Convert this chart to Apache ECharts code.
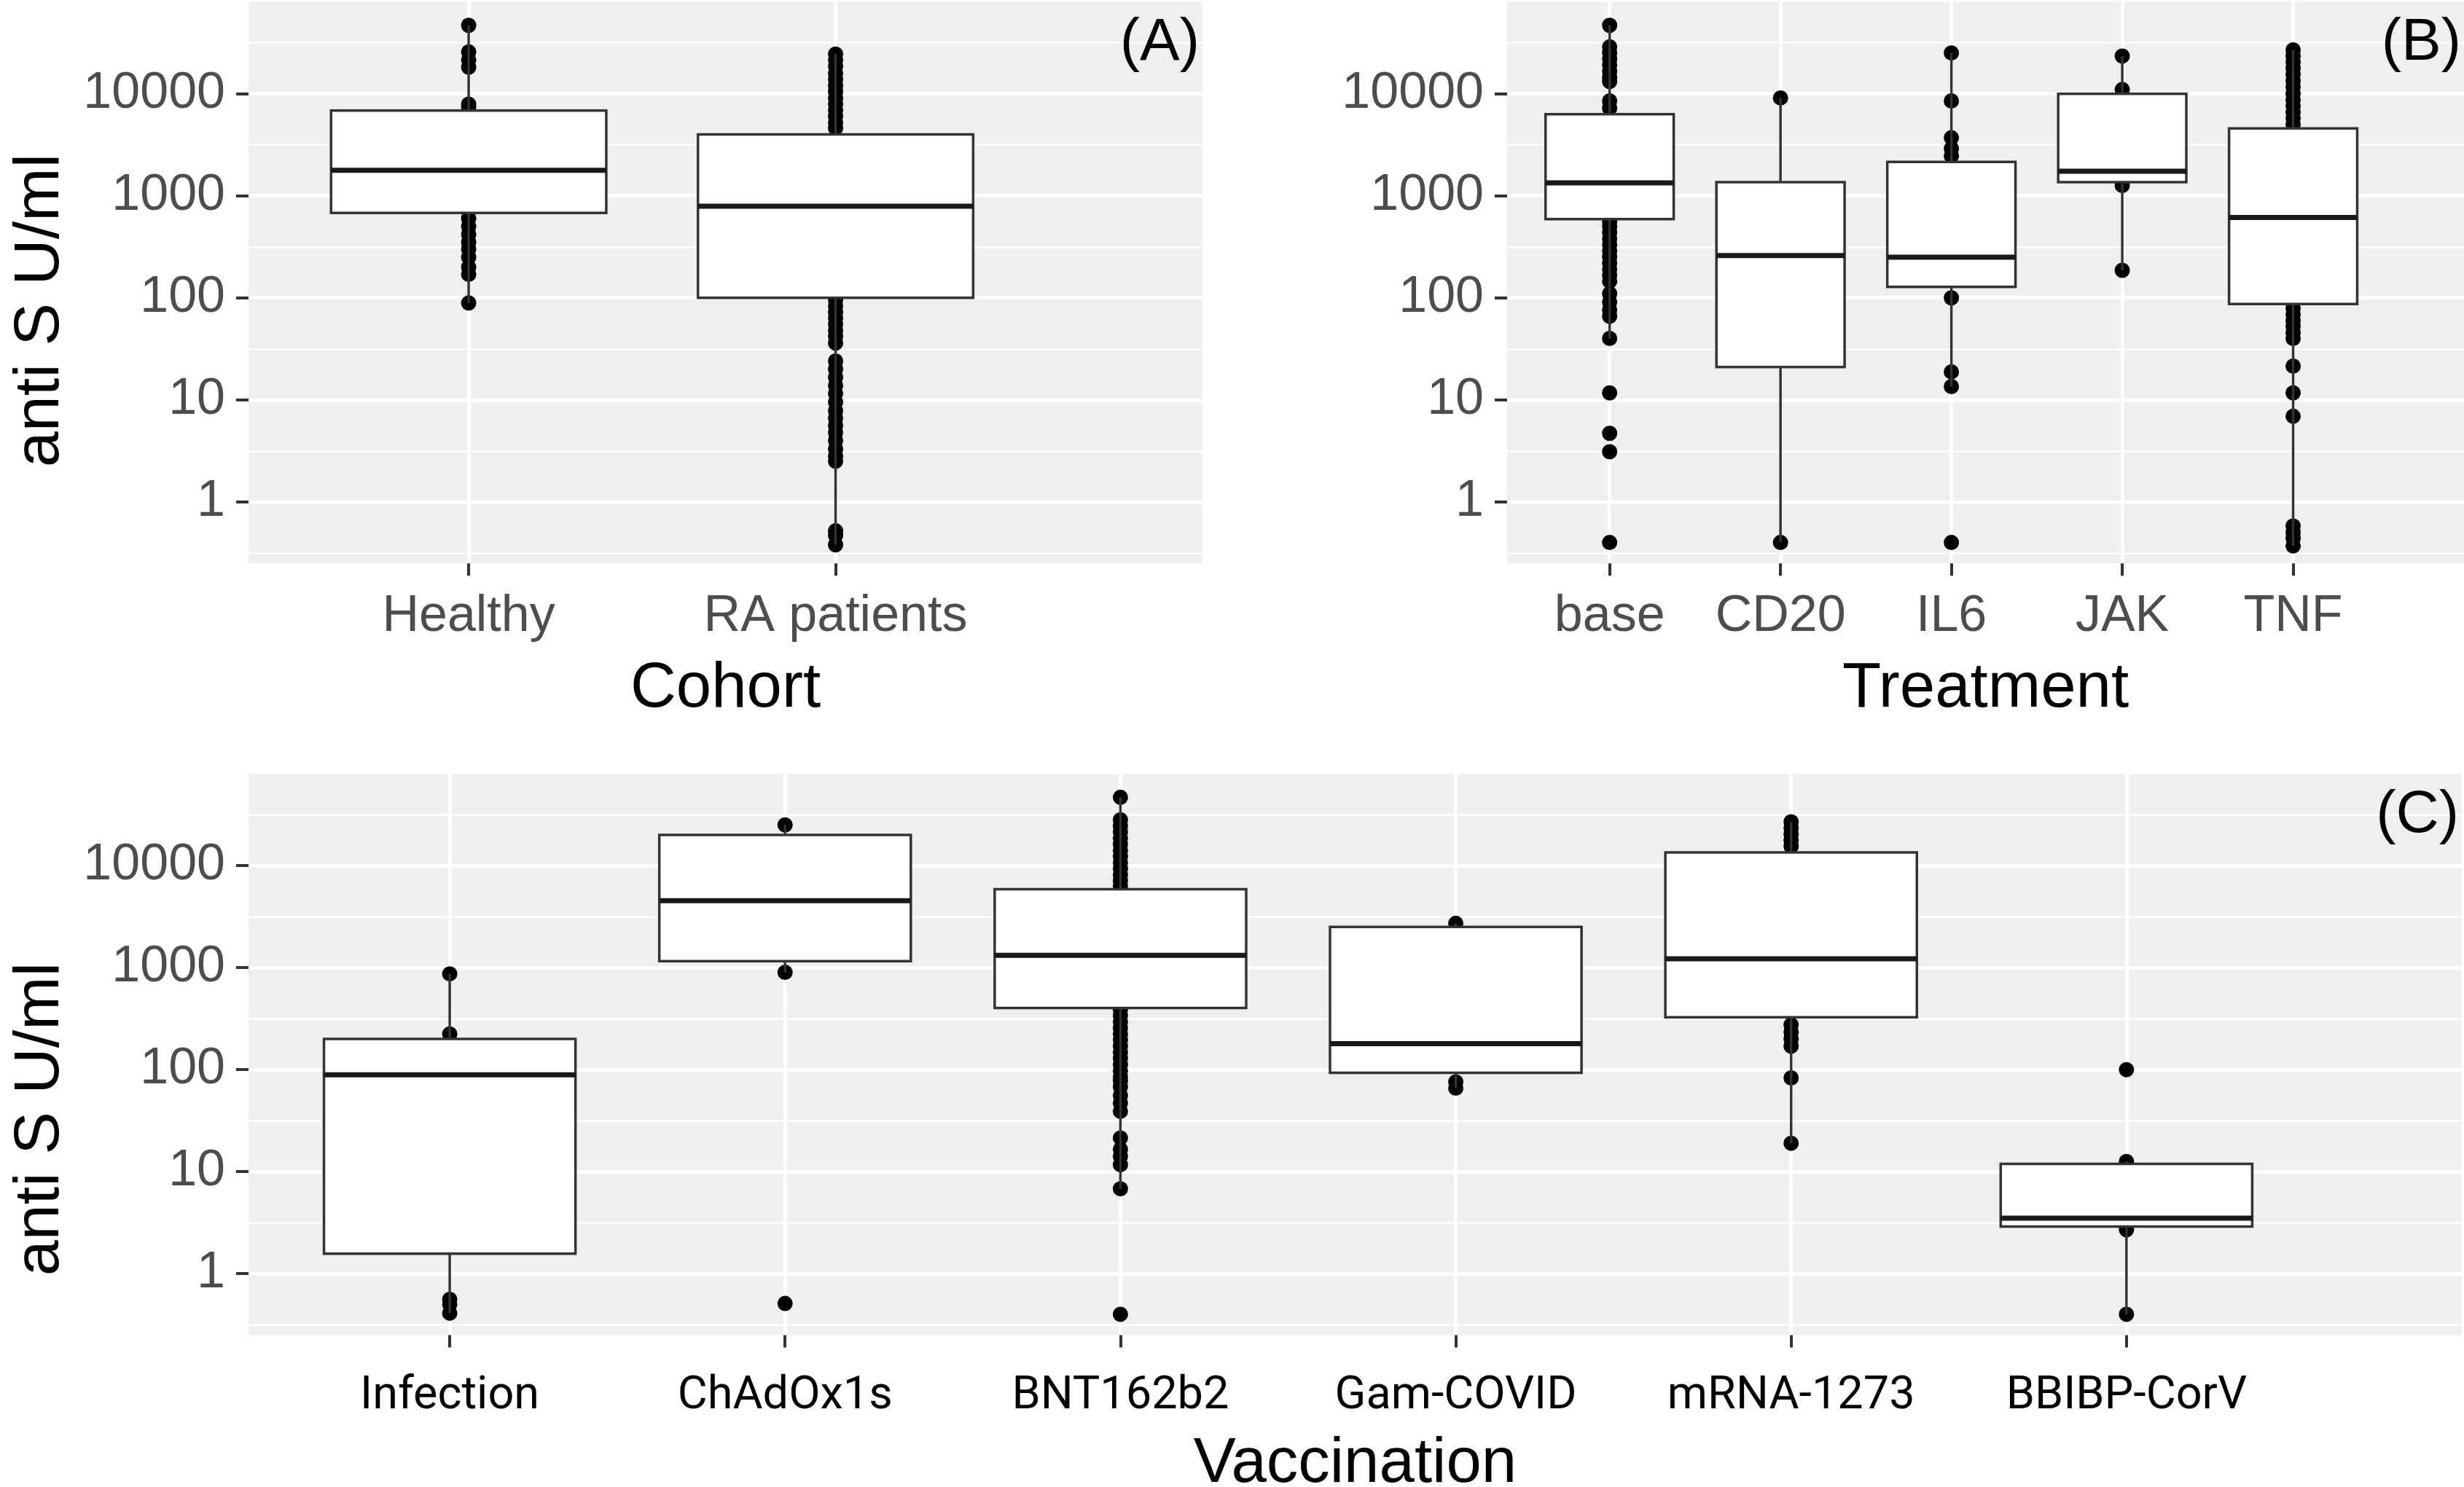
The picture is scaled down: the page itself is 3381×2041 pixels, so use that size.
<!DOCTYPE html>
<html><head><meta charset="utf-8">
<script src="https://cdn.jsdelivr.net/npm/echarts@6/dist/echarts.min.js"></script>
<style>html,body{margin:0;padding:0;background:#fff}#c{width:3381px;height:2041px}</style>
</head><body><div id="c"></div>
<script>
// ---------- DATA (anti S U/ml) ----------
// stats: [lower whisker, Q1, median, Q3, upper whisker]
const cohortCategories = ['Healthy', 'RA patients'];
const healthyStats = [89, 680, 1780, 6850, 46800];
const raStats = [0.38, 100, 790, 4000, 24500];
const healthyPoints = [46800, 25700, 21400, 18200, 7900, 7400, 600, 500, 420, 350, 300, 250, 200, 170, 89];
const raPoints = [24500, 21400, 18600, 15800, 13800, 12000, 10500, 9100, 7900, 6900, 6000, 5200, 4600,
  95, 83, 72, 63, 55, 48, 42, 36, 24, 20, 16.6, 13.8, 11.5, 9.5, 7.8, 6.6, 5.6, 4.8, 4.0, 3.3, 2.8, 2.5, 0.52, 0.47, 0.38];

const treatmentCategories = ['base', 'CD20', 'IL6', 'JAK', 'TNF'];
const baseStats = [40, 590, 1340, 6300, 46800];
const cd20Stats = [0.4, 21, 260, 1360, 9100];
const il6Stats = [13.5, 128, 250, 2150, 25100];
const jakStats = [186, 1360, 1740, 10000, 23400];
const tnfStats = [0.37, 87, 612, 4570, 26900];
const basePoints = [46800, 28800, 25100, 21900, 19100, 16600, 14500, 13200, 8500, 7200,
  560, 500, 437, 380, 331, 288, 251, 219, 191, 166, 145, 110, 91, 76, 66, 40, 11.7, 4.7, 3.1, 0.4];
const cd20Points = [9100, 0.4];
const il6Points = [25100, 8500, 3700, 2900, 2450, 100, 18.8, 13.5, 0.4];
const jakPoints = [23400, 11000, 1260, 186];
const tnfPoints = [26900, 23400, 20400, 17800, 15500, 13500, 11700, 10000, 8700, 7600, 6600, 5750, 5000,
  79, 69, 60, 52.5, 45.7, 40, 21.4, 11.7, 6.9, 0.58, 0.5, 0.44, 0.37];

const vaccinationCategories = ['Infection', 'ChAdOx1s', 'BNT162b2', 'Gam-COVID', 'mRNA-1273', 'BBIBP-CorV'];
const infectionStats = [0.41, 1.57, 89, 200, 870];
const chadStats = [900, 1160, 4540, 20000, 25100];
const bntStats = [6.8, 403, 1320, 5890, 46800];
const gamStats = [66, 93, 180, 2510, 2720];
const mrnaStats = [19, 326, 1220, 13500, 26900];
const bbibpStats = [0.4, 2.9, 3.5, 11.9, 12.6];
const infectionPoints = [870, 224, 0.56, 0.5, 0.41];
const chadPoints = [25100, 900, 0.51];
const bntPoints = [46800, 28200, 24500, 21400, 18600, 16200, 14100, 12300, 10700, 9300, 8100, 7100, 6300,
  389, 339, 295, 257, 224, 195, 170, 148, 129, 112, 98, 85, 78, 68, 56, 47, 39, 21.4, 16.6, 14.1, 11.7, 6.8, 0.4];
const gamPoints = [2720, 76, 66];
const mrnaPoints = [26900, 23400, 20400, 17800, 15500, 275, 234, 200, 170, 83, 19];
const bbibpPoints = [100, 12.6, 2.7, 0.4];

const yTickValues = [1, 10, 100, 1000, 10000];
const yTickLabels = ['1', '10', '100', '1000', '10000'];
const yMinorValues = [0.316, 3.16, 31.6, 316, 3160, 31600];

// ---------- BUILD ----------
const LOG = v => Math.log10(v);
const Y_MIN = -0.603, Y_MAX = 4.90;
const FONT = "'Liberation Sans', Arial, sans-serif";
const panels = [
  { cats: cohortCategories, stats: [healthyStats, raStats], pts: [healthyPoints, raPoints],
    grid: { left: 341, top: 2.6, width: 1309, height: 770.7 }, title: 'Cohort', tag: '(A)',
    labelFont: FONT, labelColor: '#4D4D4D', labelSize: 70, labelMargin: 38, nameGap: 129 },
  { cats: treatmentCategories, stats: [baseStats, cd20Stats, il6Stats, jakStats, tnfStats],
    pts: [basePoints, cd20Points, il6Points, jakPoints, tnfPoints],
    grid: { left: 2068, top: 2.6, width: 1313, height: 770.7 }, title: 'Treatment', tag: '(B)',
    labelFont: FONT, labelColor: '#4D4D4D', labelSize: 70, labelMargin: 38, nameGap: 129 },
  { cats: vaccinationCategories, stats: [infectionStats, chadStats, bntStats, gamStats, mrnaStats, bbibpStats],
    pts: [infectionPoints, chadPoints, bntPoints, gamPoints, mrnaPoints, bbibpPoints],
    grid: { left: 341, top: 1062.2, width: 3037, height: 770.4 }, title: 'Vaccination', tag: '(C)',
    labelFont: "Roboto, 'Liberation Sans', sans-serif", labelColor: '#000', labelSize: 63, labelMargin: 53, nameGap: 134 }
];

const grids = [], xAxes = [], yAxes = [], series = [], graphics = [];
panels.forEach((p, i) => {
  const n = p.cats.length;
  const catIdx = p.cats.map((_, k) => k + 1);
  grids.push(Object.assign({ show: true, backgroundColor: '#EFEFEF', borderWidth: 0, containLabel: false, outerBoundsMode: 'none' }, p.grid));
  xAxes.push({
    gridIndex: i, type: 'value', min: 0.4, max: n + 1, position: 'bottom',
    axisLine: { show: false, onZero: false },
    axisTick: { show: true, length: 17, lineStyle: { color: '#333', width: 4 }, customValues: catIdx },
    axisLabel: { customValues: catIdx, formatter: v => p.cats[Math.round(v) - 1], fontSize: p.labelSize,
      color: p.labelColor, fontFamily: p.labelFont, margin: p.labelMargin },
    splitLine: { show: true, lineStyle: { color: '#fff', width: 5 } },
    name: p.title, nameLocation: 'middle', nameGap: p.nameGap,
    nameTextStyle: { fontSize: 87, color: '#000', fontFamily: FONT }
  });
  const yMajor = yAxes.length;
  yAxes.push({
    gridIndex: i, type: 'value', min: Y_MIN, max: Y_MAX, position: 'left',
    axisLine: { show: false, onZero: false },
    axisTick: { show: true, length: 17, lineStyle: { color: '#333', width: 4 }, customValues: yTickValues.map(LOG) },
    axisLabel: { customValues: yTickValues.map(LOG), formatter: v => yTickLabels[Math.round(v)],
      fontSize: 70, color: '#4D4D4D', fontFamily: FONT, margin: 32 },
    splitLine: { show: true, lineStyle: { color: '#fff', width: 5 } }
  });
  yAxes.push({
    gridIndex: i, type: 'value', min: Y_MIN, max: Y_MAX, position: 'left',
    axisLine: { show: false, onZero: false },
    axisTick: { show: false, customValues: yMinorValues.map(LOG) },
    axisLabel: { show: false },
    splitLine: { show: true, lineStyle: { color: '#fff', width: 2.5 } }
  });
  const pointData = [];
  p.pts.forEach((arr, k) => arr.forEach(v => pointData.push([k + 1, LOG(v)])));
  series.push({
    type: 'scatter', xAxisIndex: i, yAxisIndex: yMajor, data: pointData,
    symbol: 'circle', symbolSize: 21, itemStyle: { color: '#000', opacity: 1 }, z: 2, silent: true
  });
  series.push({
    type: 'custom', xAxisIndex: i, yAxisIndex: yMajor, z: 3, silent: true,
    encode: { x: 0, y: [1, 2, 3, 4, 5] },
    data: p.stats.map((s, k) => [k + 1].concat(s.map(LOG))),
    renderItem: (params, api) => {
      const x = api.value(0);
      const lo = api.coord([x, api.value(1)]), q1 = api.coord([x, api.value(2)]);
      const md = api.coord([x, api.value(3)]), q3 = api.coord([x, api.value(4)]);
      const hi = api.coord([x, api.value(5)]);
      const hw = api.size([0.375, 0])[0];
      const ln = { stroke: '#333', lineWidth: 3.5 };
      return { type: 'group', children: [
        { type: 'line', shape: { x1: lo[0], y1: lo[1], x2: q1[0], y2: q1[1] }, style: ln },
        { type: 'line', shape: { x1: q3[0], y1: q3[1], x2: hi[0], y2: hi[1] }, style: ln },
        { type: 'rect', shape: { x: q3[0] - hw, y: q3[1], width: 2 * hw, height: q1[1] - q3[1] },
          style: { fill: '#fff', stroke: '#333', lineWidth: 3.5 } },
        { type: 'line', shape: { x1: md[0] - hw, y1: md[1], x2: md[0] + hw, y2: md[1] },
          style: { stroke: '#1a1a1a', lineWidth: 7 } }
      ]};
    }
  });
  graphics.push({
    type: 'text', right: 3381 - (p.grid.left + p.grid.width) + 4, top: p.grid.top + 16, z: 10,
    style: { text: p.tag, fontSize: 82, fontFamily: FONT, fill: '#000' }
  });
});
// y axis titles
[[56, 426], [56, 1536]].forEach(c => graphics.push({
  type: 'text', x: c[0], y: c[1], rotation: Math.PI / 2, z: 10,
  style: { text: 'anti S U/ml', fontSize: 88, fontFamily: FONT, fill: '#000', align: 'center', verticalAlign: 'middle' }
}));

const chart = echarts.init(document.getElementById('c'), null, { renderer: 'canvas' });
chart.setOption({
  animation: false, backgroundColor: '#fff',
  grid: grids, xAxis: xAxes, yAxis: yAxes, series: series, graphic: graphics
});
</script></body></html>
